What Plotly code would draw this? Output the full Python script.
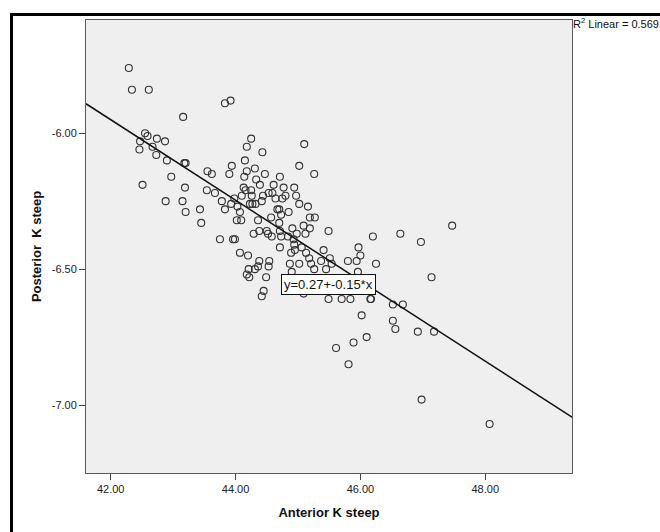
import plotly.graph_objects as go

# Anterior K steep (x) and Posterior K steep (y) for each eye
anterior_k = [
    42.29, 42.34, 42.61, 43.16, 43.83, 43.92, 42.55, 42.59, 42.47, 42.74,
    42.87, 42.46, 42.67, 42.73, 42.90, 43.18, 43.20, 42.51, 42.97, 43.19,
    42.88, 43.15, 43.20, 43.43, 43.45, 43.55, 43.62, 43.54, 43.67, 43.90,
    43.94, 43.75, 43.96, 43.99, 43.78, 43.83, 43.93, 43.98, 44.03, 44.02,
    44.09, 44.07, 44.10, 44.16, 44.13, 44.25, 44.18, 44.43, 44.15, 44.31,
    44.18, 44.14, 44.33, 44.47, 44.39, 44.25, 44.26, 44.23, 44.27, 44.32,
    44.42, 44.44, 44.53, 44.59, 44.61, 44.71, 44.77, 44.80, 44.64, 44.75,
    44.94, 44.97, 45.02, 45.02, 45.10, 45.26, 45.16, 45.19, 45.27, 44.70,
    44.73, 44.67, 44.85, 44.57, 44.36, 44.70, 44.29, 44.38, 44.52, 44.58,
    44.71, 44.73, 44.91, 44.98, 44.93, 45.09, 45.19, 45.12, 45.49, 44.71,
    44.94, 46.20, 46.64, 46.97, 47.47, 45.41, 45.06, 45.13, 45.18, 45.26,
    45.37, 45.45, 45.51, 45.54, 45.80, 45.94, 45.97, 46.00, 45.96, 46.25,
    45.02, 45.09, 45.49, 45.70, 45.84, 46.16, 46.17, 47.14, 46.52, 46.68,
    46.02, 46.52, 46.56, 46.92, 47.18, 46.10, 45.89, 45.61, 45.81, 46.98,
    48.07, 44.07, 44.20, 44.38, 44.36, 44.31, 44.21, 44.18, 44.22, 44.54,
    44.53, 44.49, 44.45, 44.42, 44.87, 44.89, 44.95, 45.21, 44.90, 44.84,
    44.50,
]
posterior_k = [
    -5.76, -5.84, -5.84, -5.94, -5.89, -5.88, -6.00, -6.01, -6.03, -6.02,
    -6.03, -6.06, -6.05, -6.08, -6.10, -6.11, -6.11, -6.19, -6.16, -6.20,
    -6.25, -6.25, -6.29, -6.28, -6.33, -6.14, -6.15, -6.21, -6.22, -6.15,
    -6.12, -6.39, -6.39, -6.39, -6.25, -6.28, -6.26, -6.24, -6.27, -6.32,
    -6.32, -6.29, -6.23, -6.21, -6.20, -6.02, -6.05, -6.07, -6.10, -6.13,
    -6.14, -6.16, -6.17, -6.15, -6.19, -6.21, -6.23, -6.26, -6.26, -6.26,
    -6.25, -6.23, -6.22, -6.22, -6.19, -6.16, -6.20, -6.23, -6.24, -6.24,
    -6.20, -6.23, -6.26, -6.12, -6.04, -6.15, -6.27, -6.31, -6.31, -6.28,
    -6.30, -6.28, -6.29, -6.31, -6.32, -6.33, -6.37, -6.36, -6.37, -6.38,
    -6.36, -6.38, -6.35, -6.37, -6.39, -6.34, -6.35, -6.37, -6.36, -6.42,
    -6.41, -6.38, -6.37, -6.40, -6.34, -6.43, -6.42, -6.44, -6.46, -6.50,
    -6.47, -6.50, -6.46, -6.48, -6.47, -6.47, -6.42, -6.45, -6.51, -6.48,
    -6.48, -6.59, -6.61, -6.61, -6.61, -6.61, -6.61, -6.53, -6.63, -6.63,
    -6.67, -6.69, -6.72, -6.73, -6.73, -6.75, -6.77, -6.79, -6.85, -6.98,
    -7.07, -6.44, -6.45, -6.47, -6.49, -6.50, -6.50, -6.52, -6.53, -6.47,
    -6.49, -6.53, -6.58, -6.60, -6.48, -6.44, -6.43, -6.48, -6.51, -6.38,
    -6.36,
]

# Linear fit reported for the scatter
INTERCEPT = 0.27
SLOPE = -0.1481
R_SQUARED = 0.569

x_ticks = [42, 44, 46, 48]
x_tick_labels = ["42.00", "44.00", "46.00", "48.00"]
y_ticks = [-6.0, -6.5, -7.0]
y_tick_labels = ["-6.00", "-6.50", "-7.00"]

X_RANGE = [41.604, 49.39]
Y_RANGE = [-7.25, -5.5835]

FONT = "Liberation Sans, Arial, sans-serif"

W, H = 660, 532
ML, MR, MT, MB = 86, 88, 20, 59

fig = go.Figure()

fig.add_trace(go.Scatter(
    x=anterior_k, y=posterior_k, mode="markers",
    marker=dict(symbol="circle-open", size=7, color="#333333",
                line=dict(width=1.1, color="#333333")),
    showlegend=False, hoverinfo="x+y",
))

# fit line across the full x extent
fit_x = list(X_RANGE)
fit_y = [INTERCEPT + SLOPE * v for v in fit_x]
fig.add_trace(go.Scatter(
    x=fit_x, y=fit_y, mode="lines",
    line=dict(color="#111111", width=1.5),
    showlegend=False, hoverinfo="skip",
))

# equation label, placed just under the fit line
fig.add_annotation(
    x=45.49, y=-6.558,
    xref="x", yref="y",
    text=f"y={INTERCEPT:.2f}+{SLOPE:.2f}*x",
    showarrow=False,
    font=dict(family=FONT, size=13, color="#111111"),
    bgcolor="white", bordercolor="#111111", borderwidth=1, borderpad=2,
)

fig.add_annotation(
    x=1, y=1, xref="paper", yref="paper",
    xanchor="left", yanchor="middle", xshift=-1, yshift=-3,
    text=f"R<sup>2</sup> Linear = {R_SQUARED:.3f}",
    showarrow=False,
    font=dict(family=FONT, size=11, color="#111111"),
)

# heavy frame around the figure
pw = W - ML - MR
ph = H - MT - MB
fig.add_shape(
    type="rect", xref="paper", yref="paper",
    x0=(11.5 - ML) / pw, x1=(W + 20 - ML) / pw,
    y0=-(H + 20 - (H - MB)) / ph, y1=1 + (MT - 14.5) / ph,
    line=dict(color="black", width=3), fillcolor="rgba(0,0,0,0)",
    layer="above",
)

axis_common = dict(
    showgrid=False, zeroline=False,
    showline=True, mirror=True, linecolor="#5a5a5a", linewidth=1,
    ticks="outside", ticklen=6, tickwidth=1, tickcolor="#444444",
    tickfont=dict(family=FONT, size=11, color="#222222"),
)

fig.update_layout(
    width=W, height=H,
    margin=dict(l=ML, r=MR, t=MT, b=MB),
    paper_bgcolor="white", plot_bgcolor="#efefef",
    xaxis=dict(
        range=X_RANGE, tickvals=x_ticks, ticktext=x_tick_labels,
        title=dict(text="Anterior K steep", standoff=13,
                   font=dict(family=FONT, size=13, color="#111111", weight="bold")),
        **axis_common,
    ),
    yaxis=dict(
        range=Y_RANGE, tickvals=y_ticks, ticktext=y_tick_labels,
        title=dict(text="Posterior\u00a0 K steep", standoff=7,
                   font=dict(family=FONT, size=13, color="#111111", weight="bold")),
        **axis_common,
    ),
)

fig.write_html("out.html")
